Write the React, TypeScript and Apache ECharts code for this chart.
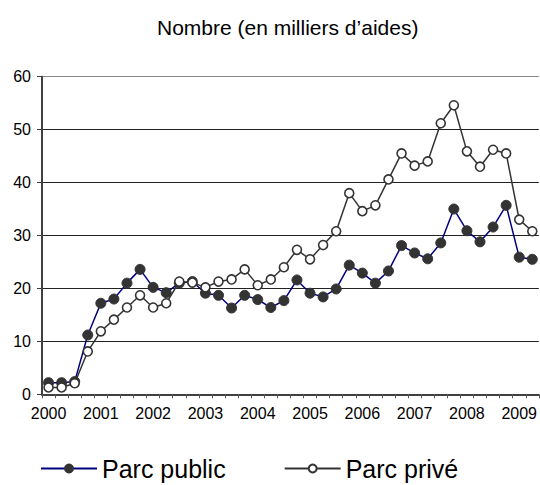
import React, { useEffect, useRef } from "react";
import * as echarts from "echarts";

const years = ["2000", "2001", "2002", "2003", "2004", "2005", "2006", "2007", "2008", "2009"];
const quarters = ["T1", "T2", "T3", "T4"];
const quarterCount = 38;

const publicValues = [
  2.2, 2.2, 2.4, 11.2, 17.2, 18.0, 21.0, 23.6,
  20.2, 19.2, 21.0, 21.3, 19.1, 18.7, 16.3, 18.7,
  17.9, 16.4, 17.7, 21.6, 19.1, 18.4, 19.9, 24.4,
  22.9, 21.0, 23.3, 28.1, 26.7, 25.6, 28.6, 35.0,
  30.9, 28.8, 31.6, 35.7, 25.9, 25.5,
];

const privateValues = [
  1.3, 1.3, 2.1, 8.1, 11.9, 14.1, 16.4, 18.7,
  16.4, 17.2, 21.3, 21.1, 20.2, 21.3, 21.7, 23.6,
  20.6, 21.7, 24.0, 27.3, 25.5, 28.2, 30.8, 38.0,
  34.6, 35.7, 40.6, 45.5, 43.2, 44.0, 51.2, 54.6,
  45.9, 43.0, 46.2, 45.5, 33.0, 30.8,
];

const seriesNames = ["Parc public", "Parc privé"];
const titleText = "Nombre (en milliers d’aides)";
const yTicks = { min: 0, max: 60, interval: 10 };

const categories: string[] = [];
years.forEach((y) => quarters.forEach((q) => categories.push(y + " " + q)));
const cats = categories.slice(0, quarterCount);

const FONT = "'Liberation Sans', Arial, sans-serif";

export default function App() {
  const ref = useRef<HTMLDivElement>(null);
  useEffect(() => {
    if (!ref.current) return;
    const chart = echarts.init(ref.current, undefined, { renderer: "svg" });
    chart.setOption({
      animation: false,
      backgroundColor: "#ffffff",
      title: {
        text: titleText,
        left: 152,
        top: 12,
        textStyle: { fontFamily: FONT, fontSize: 21, fontWeight: "normal", color: "#000" },
      },
      grid: { left: 42, right: 0, top: 76.7, bottom: 90.7, containLabel: false },
      legend: {
        left: 35,
        top: 451,
        itemWidth: 56,
        itemHeight: 10,
        itemGap: 58,
        textStyle: { fontFamily: FONT, fontSize: 25, color: "#000" },
        data: seriesNames,
      },
      xAxis: {
        type: "category",
        data: cats,
        boundaryGap: true,
        axisLine: { lineStyle: { color: "#404040", width: 2 } },
        axisTick: { show: true, length: 4, inside: false, interval: 0, lineStyle: { color: "#555", width: 1 } },
        axisLabel: {
          interval: 3,
          margin: 11,
          fontFamily: FONT,
          fontSize: 16,
          color: "#000",
          formatter: (v: string) => v.slice(0, 4),
        },
        splitLine: { show: false },
      },
      yAxis: {
        type: "value",
        min: yTicks.min,
        max: yTicks.max,
        interval: yTicks.interval,
        axisLine: { show: true, lineStyle: { color: "#404040", width: 2 } },
        axisTick: { show: true, length: 5, inside: false, lineStyle: { color: "#404040", width: 1 } },
        axisLabel: { margin: 11, fontFamily: FONT, fontSize: 16, color: "#000" },
        splitLine: {
          show: true,
          lineStyle: { color: ["#222", "#222", "#222", "#222", "#222", "#222", "#888"], width: 1 },
        },
      },
      series: [
        {
          name: seriesNames[0],
          type: "line",
          data: publicValues,
          symbol: "circle",
          symbolSize: 10,
          showAllSymbol: true,
          itemStyle: { color: "#333333", borderColor: "#333333", borderWidth: 1 },
          lineStyle: { color: "#000080", width: 1.5 },
          z: 2,
        },
        {
          name: seriesNames[1],
          type: "line",
          data: privateValues,
          symbol: "circle",
          symbolSize: 9,
          showAllSymbol: true,
          itemStyle: { color: "#ffffff", borderColor: "#333333", borderWidth: 1.6 },
          lineStyle: { color: "#333333", width: 1.5 },
          z: 3,
        },
      ],
    });
    return () => chart.dispose();
  }, []);
  return (
    <div
      ref={ref}
      style={{ position: "fixed", left: 0, top: 0, width: 540, height: 485, background: "#fff" }}
    />
  );
}
